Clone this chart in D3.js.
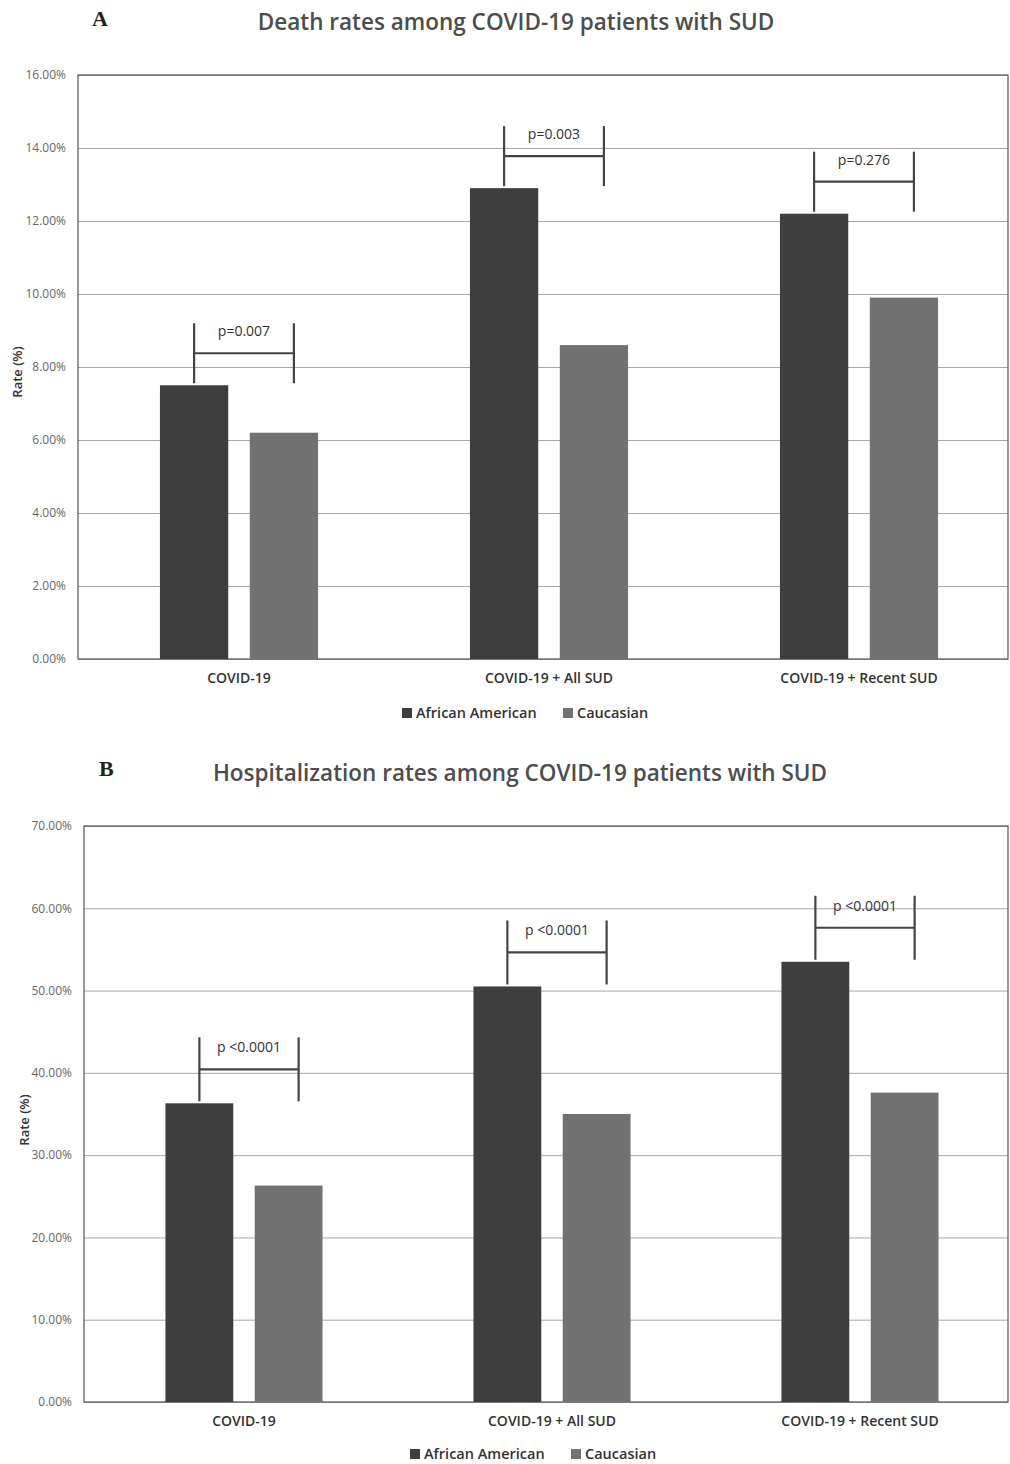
<!DOCTYPE html>
<html>
<head>
<meta charset="utf-8">
<script src="https://cdn.jsdelivr.net/npm/d3@7"></script>
<style>
  body { margin: 0; background: #fff; }
  svg { display: block; }
  .title { font-family: "Open Sans", sans-serif; font-weight: 600; fill: #4d4d4d; }
  .panel-letter { font-family: "Liberation Serif", serif; font-weight: bold; fill: #222; }
  .tick text { font-family: "Open Sans", sans-serif; fill: #666; }
  .cat { font-family: "Open Sans", sans-serif; fill: #333; }
  .legend text { font-family: "Open Sans", sans-serif; fill: #333; }
  .pval { font-family: "Open Sans", sans-serif; fill: #333; }
</style>
</head>
<body>
<div id="chart"></div>
<script>
// data
var categories = ["COVID-19", "COVID-19 + All SUD", "COVID-19 + Recent SUD"];
var seriesNames = ["African American", "Caucasian"];

var deathAA = [7.5, 12.9, 12.2];
var deathCauc = [6.2, 8.6, 9.9];
var deathP = ["p=0.007", "p=0.003", "p=0.276"];
var deathTicks = [0, 2, 4, 6, 8, 10, 12, 14, 16];

var hospAA = [36.3, 50.5, 53.5];
var hospCauc = [26.3, 35.0, 37.6];
var hospP = ["p <0.0001", "p <0.0001", "p <0.0001"];
var hospTicks = [0, 10, 20, 30, 40, 50, 60, 70];

var colors = { "African American": "#3e3e3e", "Caucasian": "#727272" };

var svg = d3.select("#chart").append("svg")
  .attr("width", 1010)
  .attr("height", 1464);

var fmt = d3.format(".2f");

function drawPanel(opt){
  var g = svg.append("g");
  var left = opt.left, right = 1008, top = opt.top, bottom = opt.bottom;

  // letter + title
  g.append("text").attr("class", "panel-letter")
    .attr("x", opt.letterX).attr("y", opt.letterY)
    .attr("font-size", 22)
    .text(opt.letter);
  g.append("text").attr("class", "title")
    .attr("x", opt.titleX).attr("y", opt.titleY)
    .attr("text-anchor", "middle")
    .attr("font-size", 22.5)
    .text(opt.title);

  var y = d3.scaleLinear()
    .domain([0, d3.max(opt.ticks)])
    .range([bottom, top]);

  var x0 = d3.scaleBand().domain(categories).range([left, right]);
  var bw = x0.bandwidth();
  var x1 = d3.scaleBand().domain(seriesNames)
    .range([bw * 0.245 + 6, bw * 0.755 + 6])
    .paddingInner(0.24);

  // gridlines
  var grid = g.append("g")
    .attr("transform", "translate(" + left + ",0)")
    .call(d3.axisLeft(y).tickValues(opt.ticks).tickSize(-(right - left)).tickFormat(""));
  grid.select(".domain").remove();
  grid.selectAll("line").attr("stroke", "#a8a8a8").attr("stroke-width", 1);

  // tick labels
  var yAxis = g.append("g")
    .attr("transform", "translate(" + left + ",0)")
    .call(d3.axisLeft(y).tickValues(opt.ticks).tickSize(0).tickPadding(12)
      .tickFormat(function(d){ return fmt(d) + "%"; }));
  yAxis.select(".domain").remove();
  yAxis.selectAll("text").attr("font-size", 12);

  // plot border
  g.append("rect")
    .attr("x", left).attr("y", top)
    .attr("width", right - left).attr("height", bottom - top)
    .attr("fill", "none").attr("stroke", "#555").attr("stroke-width", 1.2);

  // y axis title
  g.append("text")
    .attr("class", "cat")
    .attr("transform", "translate(" + opt.yTitleX + "," + opt.yTitleY + ") rotate(-90)")
    .attr("text-anchor", "middle")
    .attr("font-size", 13)
    .attr("font-weight", 600)
    .text("Rate (%)");

  var rows = categories.map(function(c, i){
    return { cat: c, vals: [opt.aa[i], opt.cauc[i]], p: opt.p[i] };
  });

  var groups = g.selectAll(".grp").data(rows).enter().append("g")
    .attr("class", "grp")
    .attr("transform", function(d){ return "translate(" + x0(d.cat) + ",0)"; });

  groups.selectAll("rect")
    .data(function(d){ return seriesNames.map(function(s, j){ return { s: s, v: d.vals[j] }; }); })
    .enter().append("rect")
    .attr("x", function(d){ return x1(d.s); })
    .attr("width", x1.bandwidth())
    .attr("y", function(d){ return y(d.v); })
    .attr("height", function(d){ return bottom - y(d.v); })
    .attr("fill", function(d){ return colors[d.s]; });

  // significance brackets
  var br = groups.append("g").attr("stroke", "#444").attr("stroke-width", 2.2);
  var xl = x1(seriesNames[0]) + x1.bandwidth() / 2;
  var xr = x1(seriesNames[1]) + x1.bandwidth() / 2 + 10;
  br.each(function(d){
    var b = d3.select(this);
    var yTop = y(d.vals[0]) - 2;
    b.append("line").attr("x1", xl).attr("x2", xl).attr("y1", yTop).attr("y2", yTop - opt.brH);
    b.append("line").attr("x1", xr).attr("x2", xr).attr("y1", yTop).attr("y2", yTop - opt.brH);
    b.append("line").attr("x1", xl).attr("x2", xr)
      .attr("y1", yTop - opt.brH / 2).attr("y2", yTop - opt.brH / 2);
  });
  groups.append("text").attr("class", "pval")
    .attr("x", (xl + xr) / 2)
    .attr("y", function(d){ return y(d.vals[0]) - 2 - opt.brH / 2 - 17; })
    .attr("text-anchor", "middle")
    .attr("font-size", 14)
    .text(function(d){ return d.p; });

  // category labels
  groups.append("text").attr("class", "cat")
    .attr("x", bw / 2 + 6)
    .attr("y", bottom + 24)
    .attr("text-anchor", "middle")
    .attr("font-size", 14)
    .attr("font-weight", 600)
    .text(function(d){ return d.cat; });

  // legend
  var lg = g.append("g").attr("class", "legend")
    .attr("transform", "translate(" + opt.legendX + "," + opt.legendY + ")");
  var offs = [0, 161];
  seriesNames.forEach(function(s, j){
    lg.append("rect").attr("x", offs[j]).attr("y", -10).attr("width", 10).attr("height", 10)
      .attr("fill", colors[s]);
    lg.append("text").attr("x", offs[j] + 14).attr("y", 0)
      .attr("font-size", 14.5).attr("font-weight", 600)
      .text(s);
  });
}

drawPanel({
  letter: "A", letterX: 92, letterY: 26,
  title: "Death rates among COVID-19 patients with SUD", titleX: 516, titleY: 30,
  left: 78, top: 75, bottom: 659, yTitleX: 22, yTitleY: 372,
  ticks: deathTicks, aa: deathAA, cauc: deathCauc, p: deathP, brH: 60,
  legendX: 402, legendY: 718
});

drawPanel({
  letter: "B", letterX: 99, letterY: 776,
  title: "Hospitalization rates among COVID-19 patients with SUD", titleX: 520, titleY: 781,
  left: 84, top: 826, bottom: 1402, yTitleX: 29, yTitleY: 1120,
  ticks: hospTicks, aa: hospAA, cauc: hospCauc, p: hospP, brH: 64,
  legendX: 410, legendY: 1459
});
</script>
</body>
</html>
